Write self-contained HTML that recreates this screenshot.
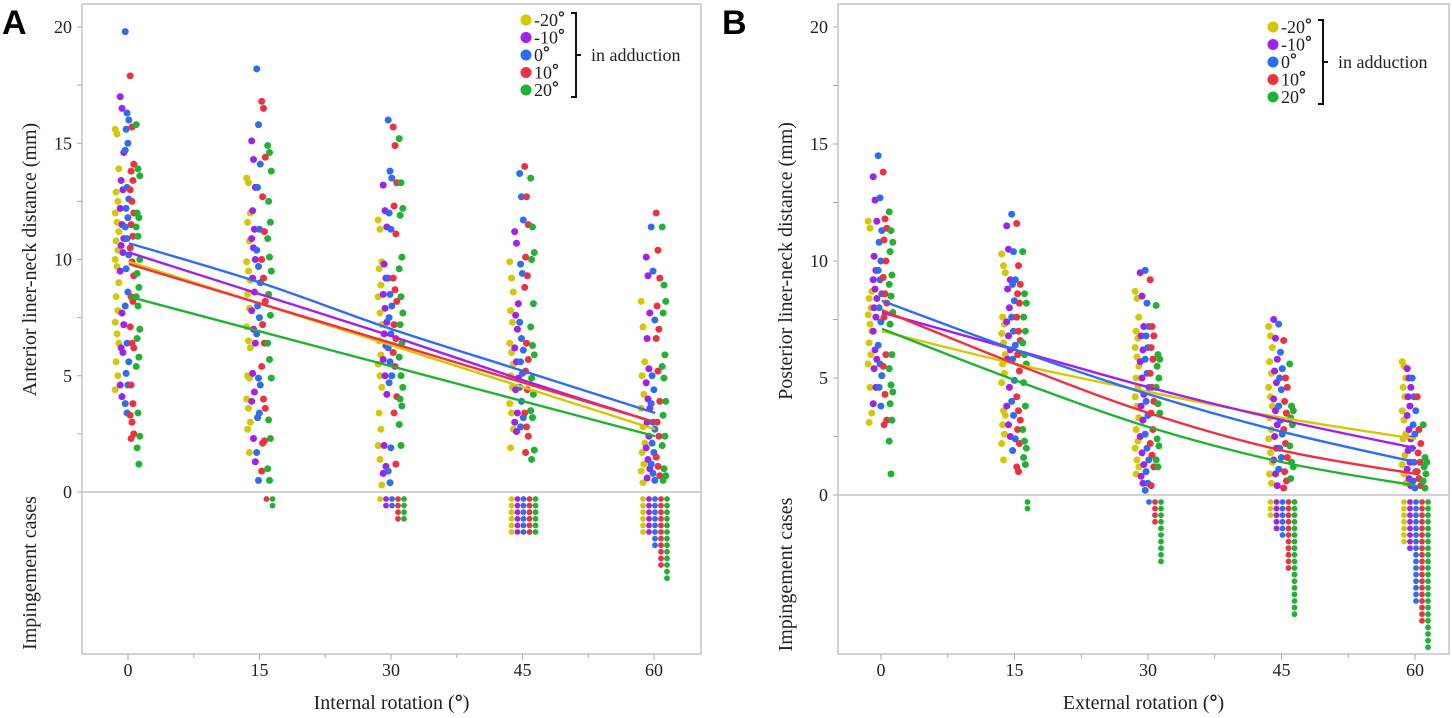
<!DOCTYPE html>
<html><head><meta charset="utf-8"><style>
html,body{margin:0;padding:0;background:#fff;}
svg{display:block;font-family:"Liberation Serif",serif;}
</style></head><body>
<svg id="chart" width="1452" height="718" viewBox="0 0 1452 718">
<text x="2" y="34" font-family="Liberation Sans, sans-serif" font-weight="bold" font-size="34">A</text>
<text x="722" y="34" font-family="Liberation Sans, sans-serif" font-weight="bold" font-size="34">B</text>
</svg>
<script>
const seriesNames=['-20','-10','0','10','20'];
const colors=['#d6c800','#a21ff0','#2b6ef5','#f0303f','#1fb332'];
const xCats=[0,15,30,45,60];
const yTicks=[0,5,10,15,20];

const aX0=[[15.6,15.4,13.9,12.9,12.5,12.0,11.6,11.2,10.8,10.4,10.0,9.7,9.0,8.4,7.8,7.3,6.8,6.4,5.6,5.0,4.4],[17.0,16.5,14.6,13.4,13.0,12.2,11.5,10.9,10.6,10.3,9.5,7.7,7.2,6.2,6.0,4.6,4.1],[19.8,16.3,16.0,15.6,15.0,14.7,13.1,12.6,12.2,11.8,11.4,10.9,10.2,9.6,8.6,8.0,6.4,5.6,5.1,4.6,3.8,3.4],[17.9,15.7,14.1,13.8,13.4,13.0,12.5,12.0,11.5,11.0,10.5,9.9,9.3,8.4,8.2,7.1,6.4,6.2,4.6,3.8,3.3,3.0,2.5,2.3],[15.8,13.9,13.6,12.0,11.8,11.4,11.0,10.0,9.4,8.8,8.4,8.0,7.0,6.6,5.8,5.4,3.4,2.4,1.9,1.2]];
const aX15=[[13.5,13.3,12.0,11.6,10.8,9.9,9.5,9.1,8.5,7.9,7.1,6.5,6.2,5.0,4.9,4.0,3.6,3.0,2.7,1.7],[15.1,14.3,13.1,12.1,11.3,10.9,10.5,10.0,9.2,8.6,7.8,7.0,6.4,5.1,4.3,3.9,2.3,1.3],[18.2,15.8,14.1,13.1,11.3,10.4,9.7,9.0,8.0,7.5,6.8,4.9,4.6,3.2,3.4,1.7,0.5],[16.8,16.5,14.4,12.7,11.2,10.0,9.2,8.2,7.2,6.4,5.4,4.0,3.6,2.1,2.2,0.9],[14.9,14.6,13.8,12.5,11.6,10.9,10.1,9.5,8.5,7.6,6.4,5.7,4.9,3.1,2.3,1.0,0.5]];
const aX30=[[11.7,11.3,9.9,9.6,8.9,8.4,7.7,7.2,6.5,5.9,5.5,5.0,4.5,3.4,2.7,2.0,1.4,0.3],[13.2,12.1,11.4,9.8,9.2,8.5,7.9,7.3,6.8,6.3,5.7,5.0,4.2,2.0,1.1,0.8],[16.0,13.8,13.5,12.0,11.3,9.2,8.5,8.0,7.5,6.8,6.2,5.6,5.0,4.7,1.9,0.9,0.4],[15.7,14.9,13.3,12.3,11.1,9.2,8.7,8.2,7.2,6.6,6.0,5.4,4.1,3.4,1.2],[15.2,13.3,12.2,11.9,10.1,9.6,8.4,7.7,7.2,6.4,5.8,5.0,4.5,4.0,3.7,2.9,2.0]];
const aX45=[[9.9,9.2,8.6,7.8,7.3,6.4,6.0,5.5,5.0,4.5,3.8,3.4,2.7,1.9],[11.2,10.7,8.1,7.6,7.0,6.2,5.6,4.9,4.4,3.4,3.0,2.6],[13.7,12.7,11.7,9.8,9.4,7.3,6.6,6.1,5.6,5.1,4.5,3.9,3.2,2.8],[14.0,12.7,11.5,10.1,9.3,8.8,6.4,5.7,5.2,4.4,3.4,2.8,2.4,1.7],[13.5,11.4,10.3,10.0,8.1,7.1,6.3,5.9,4.9,4.2,3.5,3.2,1.8,1.4]];
const aX60=[[8.2,7.1,5.6,5.0,4.2,3.6,2.8,2.1,1.7,1.2,0.9,0.4],[10.1,9.3,7.7,6.6,5.3,4.7,4.0,3.6,3.0,2.4,1.9,1.4,1.0,0.6],[11.4,9.5,7.4,5.0,4.4,3.8,3.0,2.7,2.1,1.7,1.2,0.8,0.5],[12.0,10.4,9.2,8.0,7.0,6.6,5.2,3.9,3.0,2.4,1.5,1.1,0.7],[11.4,8.9,8.2,7.7,5.9,5.4,4.9,3.9,3.3,2.4,2.0,1.0,0.7,0.5]];
const aImp=[[0,0,0,0,0],[0,0,0,1,2],[1,2,2,4,4],[6,6,6,6,6],[6,6,8,11,13]];
const aFit=[[9.9,8.1,6.3,4.5,2.7],[10.3,8.5,6.7,4.8,3.0],[10.7,9.0,7.0,5.2,3.4],[9.8,8.1,6.4,4.7,3.0],[8.4,6.9,5.4,3.9,2.4]];

const bX0=[[11.7,11.4,8.7,8.4,8.0,7.7,7.3,7.0,6.5,6.0,5.6,4.6,3.5,3.1],[13.6,12.6,11.7,10.2,9.6,9.2,8.8,8.4,8.0,7.6,7.0,6.2,5.8,5.4,4.6,3.9],[14.5,12.7,11.3,10.8,10.0,9.6,9.2,8.6,8.0,7.4,6.4,5.6,5.1,4.6,3.8],[13.8,11.8,11.4,10.9,10.0,9.3,8.6,8.2,7.6,6.0,5.5,4.3,3.2,3.0],[12.1,11.3,10.8,10.4,9.4,9.0,8.5,7.8,7.3,6.0,5.4,4.7,4.4,3.9,3.2,2.3,0.9]];
const bX15=[[10.3,9.8,9.5,7.6,7.3,6.9,6.5,6.0,5.6,5.2,4.8,3.6,3.4,3.0,2.6,2.2,1.5],[11.5,10.5,9.2,8.8,8.0,7.4,6.8,6.2,5.8,4.6,3.8,3.0,2.5],[12.0,10.4,9.2,9.0,8.3,7.6,7.0,6.4,5.8,4.9,4.0,3.4,2.4,1.9],[11.6,9.8,9.0,8.6,8.2,7.6,7.0,6.6,6.0,5.3,4.2,3.6,3.2,2.8,2.2,1.2,1.0],[10.4,8.6,8.2,7.6,7.0,6.5,6.0,5.6,4.8,3.8,2.8,2.3,2.0,1.6,1.3]];
const bX30=[[8.7,8.4,7.6,7.0,6.7,6.3,5.9,5.5,5.0,4.6,4.2,3.8,3.3,2.8,2.3,2.0,1.5,1.2,0.9],[9.5,8.5,7.2,6.8,6.2,5.7,5.0,4.3,3.8,3.2,2.5,1.8,1.3,0.8,0.5],[9.6,8.2,7.2,6.8,6.3,5.8,5.2,4.6,4.0,3.4,2.6,2.0,1.5,1.0,0.5,0.2],[9.2,7.2,6.8,6.3,5.8,5.2,4.6,4.0,3.5,2.8,2.2,1.7,1.2,0.4],[8.1,6.0,5.8,5.5,5.0,4.6,3.9,3.5,2.4,2.1,1.5,1.2]];
const bX45=[[7.2,6.8,6.3,5.7,5.2,4.6,4.2,3.8,3.3,2.8,2.4,1.8,1.4,0.9,0.5],[7.5,6.7,5.8,5.3,4.8,4.1,3.6,3.0,2.5,2.0,1.5,0.9,0.4],[7.3,6.1,5.4,5.0,4.5,3.8,3.2,2.6,2.0,1.6,1.1],[6.6,5.0,4.6,4.0,3.5,2.8,2.2,1.6,1.0,0.6,0.3],[5.6,3.8,3.6,3.3,3.0,2.1,1.4,1.2,0.7]];
const bX60=[[5.7,5.5,5.0,4.6,4.2,3.6,3.2,2.6,2.4,1.7,1.3,0.9,0.5],[5.4,5.0,4.6,4.2,3.8,3.4,2.8,2.4,1.9,1.4,1.1,0.7,0.4],[5.0,4.2,3.6,3.0,2.6,2.0,1.4,1.0,0.6,0.3],[4.2,2.8,2.2,1.8,1.4,1.0,0.7,0.4],[3.0,1.6,1.4,1.2,0.9,0.6,0.3]];
const bImp=[[0,0,0,0,0],[0,0,0,0,2],[0,0,1,4,10],[3,5,6,11,18],[7,8,16,19,23]];
const bFit=[[7.0,5.6,4.4,3.3,2.4],[7.8,6.2,4.6,3.2,2.0],[8.3,6.2,4.3,2.7,1.4],[7.9,5.6,3.5,1.9,0.9],[7.1,4.9,2.9,1.4,0.4]];

const NS='http://www.w3.org/2000/svg';
const svg=document.getElementById('chart');
function mk(tag,attrs,parent){const e=document.createElementNS(NS,tag);for(const k in attrs)e.setAttribute(k,attrs[k]);(parent||svg).appendChild(e);return e;}

function panel(cfg){
  const g=mk('g',{});
  
  
  const xs=v=>cfg.x0+(cfg.x60-cfg.x0)*v/60;
  const ys=v=>cfg.y0+(cfg.y20-cfg.y0)*v/20;
  const fr=mk('rect',{x:cfg.L,y:cfg.T,width:cfg.R-cfg.L,height:cfg.B-cfg.T,fill:'none',stroke:'#c4c4c4','stroke-width':1.5},g);
  
  
  const zl=mk('line',{x1:cfg.L,x2:cfg.R,y1:ys(0),y2:ys(0),stroke:'#c4c4c4','stroke-width':1.5},g);
  
  
  for(let v=0;v<=20;v+=2.5){mk('line',{x1:cfg.L-5,x2:cfg.L,y1:ys(v),y2:ys(v),stroke:'#aaa','stroke-width':1},g);}
  yTicks.forEach(v=>{const t=mk('text',{x:cfg.L-10,y:ys(v)+6,'text-anchor':'end','font-size':18,fill:'#222'},g);t.textContent=v;
    
    });
  for(let v=0;v<=67.5;v+=7.5){const px=xs(v);if(px>cfg.R)continue;mk('line',{x1:px,x2:px,y1:cfg.B,y2:cfg.B+(v%15===0?6:4),stroke:'#aaa','stroke-width':1},g);}
  xCats.forEach(v=>{const t=mk('text',{x:xs(v),y:cfg.B+22,'text-anchor':'middle','font-size':18,fill:'#222'},g);t.textContent=v;
    
    });
  const xt=mk('text',{x:(cfg.L+cfg.R)/2,y:cfg.B+55,'text-anchor':'middle','font-size':20,fill:'#222'},g);
  xt.innerHTML=cfg.xTitle+' (<tspan font-family="Liberation Sans, sans-serif" font-weight="bold">°</tspan>)';
  
  
  const yt=mk('text',{x:0,y:0,'text-anchor':'middle','font-size':20,fill:'#222',transform:`translate(${cfg.L-46},${ys(10)}) rotate(-90)`},g);
  yt.textContent=cfg.yTitle;
  
  
  const it=mk('text',{x:0,y:0,'text-anchor':'middle','font-size':20,fill:'#222',transform:`translate(${cfg.L-46},${(ys(0)+cfg.B)/2}) rotate(-90)`},g);
  it.textContent='Impingement cases';
  
  
  const off=[-11,-6,-1,4,10];
  const impOff=[-11,-5,1,7,13];
  cfg.groups.forEach((grp,gi)=>{
    grp.forEach((vals,si)=>{
      vals.forEach((v,k)=>{
        const jit=((k*37)%5-2)*0.9;
        const c=mk('circle',{cx:xs(xCats[gi])+off[si]+jit,cy:ys(v),r:3.5,fill:colors[si]},g);
        
        
      });
    });
    cfg.imp[gi].forEach((n,si)=>{
      for(let k=0;k<n;k++){
        const c=mk('circle',{cx:xs(xCats[gi])+impOff[si],cy:ys(0)+7+k*6.6,r:2.9,fill:colors[si]},g);
        
        
      }
    });
  });
  cfg.fit.forEach((vals,si)=>{
    const p=vals.map((v,i)=>[xs(xCats[i])+1,ys(v)]);
    let d='M'+p[0][0]+','+p[0][1];
    for(let i=0;i<p.length-1;i++){
      const p0=p[Math.max(0,i-1)],p1=p[i],p2=p[i+1],p3=p[Math.min(p.length-1,i+2)];
      const c1=[p1[0]+(p2[0]-p0[0])/6,p1[1]+(p2[1]-p0[1])/6];
      const c2=[p2[0]-(p3[0]-p1[0])/6,p2[1]-(p3[1]-p1[1])/6];
      d+=` C${c1[0]},${c1[1]} ${c2[0]},${c2[1]} ${p2[0]},${p2[1]}`;
    }
    const l=mk('path',{d:d,fill:'none',stroke:colors[si],'stroke-width':2.4},g);
    
    
  });
  const lg=mk('g',{},g);
  
  
  seriesNames.forEach((n,i)=>{
    const y=cfg.legY+i*17.5;
    mk('circle',{cx:cfg.legX,cy:y,r:5.5,fill:colors[i]},lg);
    const t=mk('text',{x:cfg.legX+8,y:y+6,'font-size':18,fill:'#222'},lg);
    t.innerHTML=n+'<tspan font-family="Liberation Sans, sans-serif" font-weight="bold" font-size="17" dy="-3">°</tspan>';
    
    
  });
  const bx=cfg.legX+50, by1=cfg.legY-7, by2=cfg.legY+4*17.5+7, bm=(by1+by2)/2;
  mk('path',{d:`M${bx-5},${by1} H${bx} V${by2} H${bx-5} M${bx},${bm} H${bx+5}`,fill:'none',stroke:'#111','stroke-width':2},lg);
  const ia=mk('text',{x:bx+15,y:bm+6,'font-size':18,fill:'#222'},lg);
  ia.textContent='in adduction';
  
  
}

panel({id:'panel-a',L:82,R:701,T:4,B:654,x0:128,x60:654,y0:492,y20:27,
  xTitle:'Internal rotation',yTitle:'Anterior liner-neck distance (mm)',
  groups:[aX0,aX15,aX30,aX45,aX60],imp:aImp,fit:aFit,legX:526,legY:20});
panel({id:'panel-b',L:838,R:1449,T:4,B:654,x0:881,x60:1415,y0:495,y20:27,
  xTitle:'External rotation',yTitle:'Posterior liner-neck distance (mm)',
  groups:[bX0,bX15,bX30,bX45,bX60],imp:bImp,fit:bFit,legX:1273,legY:27});
</script>
</body></html>
